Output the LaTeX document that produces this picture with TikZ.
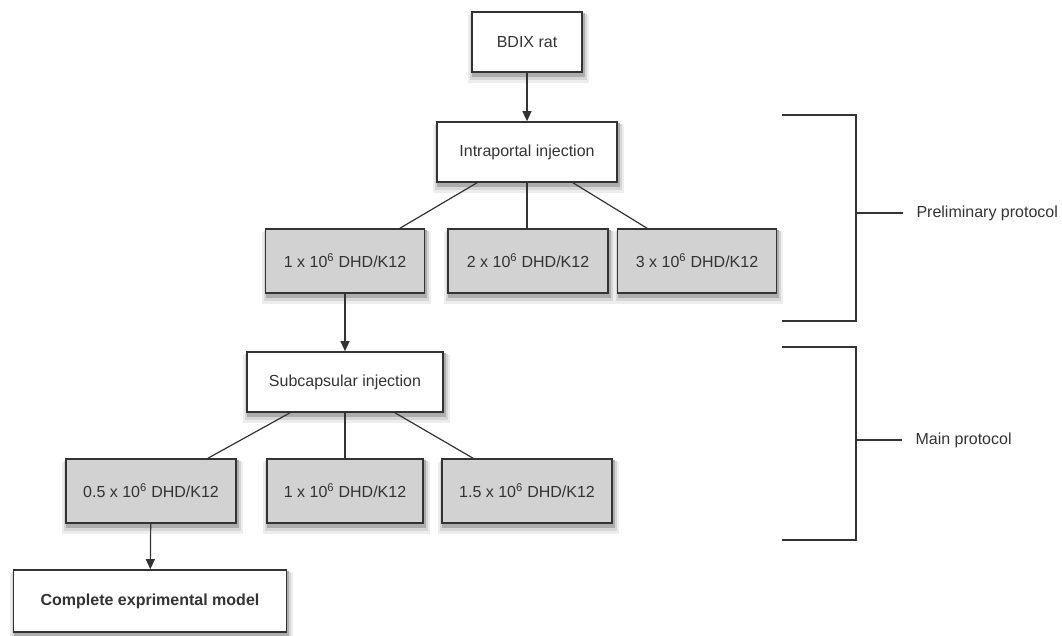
\documentclass[tikz,border=0pt]{standalone}
\usepackage{fontspec}
\setmainfont{Liberation Sans}
\usetikzlibrary{arrows.meta, backgrounds, calc}

\definecolor{edgegray}{HTML}{333333}
\definecolor{boxgray}{HTML}{D2D2D2}

\begin{document}
\begin{tikzpicture}[
    x=1pt, y=-1pt,
    font=\fontsize{16}{19}\selectfont,
    every node/.style={text=edgegray},
    plain/.style={rectangle, draw=edgegray, fill=white, line width=1.6pt, minimum height=60pt, align=center},
    dose/.style={plain, fill=boxgray, minimum height=64pt},
    link/.style={draw=edgegray, line width=1.2pt},
    arrow/.style={link, -{Triangle[length=10pt, width=9pt]}},
    brace/.style={draw=edgegray, line width=1.2pt}
]
\useasboundingbox (0,0) rectangle (1062,635);

% Top of the tree
\node[plain, minimum width=110pt] (rat) at (527,42) {BDIX rat};
\node[plain, minimum width=180pt] (portal) at (527,152) {Intraportal injection};

% Preliminary doses
\node[dose, minimum width=159pt] (pre1) at (345,261) {1 x 10\textsuperscript{6} DHD/K12};
\node[dose, minimum width=160pt] (pre2) at (528,261) {2 x 10\textsuperscript{6} DHD/K12};
\node[dose, minimum width=159pt] (pre3) at (697,261) {3 x 10\textsuperscript{6} DHD/K12};

% Main protocol
\node[plain, minimum width=196pt] (subcaps) at (345,382) {Subcapsular injection};
\node[dose, minimum width=170pt] (main1) at (151,491) {0.5 x 10\textsuperscript{6} DHD/K12};
\node[dose, minimum width=156pt] (main2) at (345,491) {1 x 10\textsuperscript{6} DHD/K12};
\node[dose, minimum width=170pt] (main3) at (527,491) {1.5 x 10\textsuperscript{6} DHD/K12};

\node[plain, minimum width=273pt, minimum height=62pt, font=\fontsize{16}{19}\selectfont\bfseries] (model) at (150,601) {Complete exprimental model};

% Soft shadows behind the boxes
\begin{scope}[on background layer]
\foreach \n in {rat,portal,pre1,pre2,pre3,subcaps,main1,main2,main3,model}{
    \fill[black!7] ($(\n.north west)+(-3,4)$) rectangle ($(\n.south east)+(6,10)$);
    \fill[black!16] ($(\n.north west)+(-1,3)$) rectangle ($(\n.south east)+(4,7)$);
    \fill[black!32] ($(\n.north west)+(1,2)$) rectangle ($(\n.south east)+(2,4)$);
}
\end{scope}

% Connections
\draw[arrow] (rat) -- (portal);
\draw[link] ($(portal.south)+(-50,0)$) -- ($(pre1.north)+(55,0)$);
\draw[link] (portal.south) -- (portal.south |- pre2.north);
\draw[link] ($(portal.south)+(46,0)$) -- ($(pre3.north)+(-50,0)$);
\draw[arrow] (pre1) -- (subcaps);
\draw[link] ($(subcaps.south)+(-55,0)$) -- ($(main1.north)+(57,0)$);
\draw[link] (subcaps.south) -- (main2.north);
\draw[link] ($(subcaps.south)+(50,0)$) -- ($(main3.north)+(-54,0)$);
\draw[arrow] (main1) -- (model);

% Brackets
\node[anchor=west] (prelim) at (913,213) {Preliminary protocol};
\node[anchor=west] (mainp) at (912,440) {Main protocol};
\coordinate (b1) at (856,213);
\coordinate (b2) at (856,440);
\draw[brace] (782,115) -| (856,321) -- (782,321);
\draw[brace] (b1) -- ($(prelim.west)+(-10,0)$);
\draw[brace] (782,347) -| (856,540) -- (782,540);
\draw[brace] (b2) -- ($(mainp.west)+(-10,0)$);

\end{tikzpicture}
\end{document}
